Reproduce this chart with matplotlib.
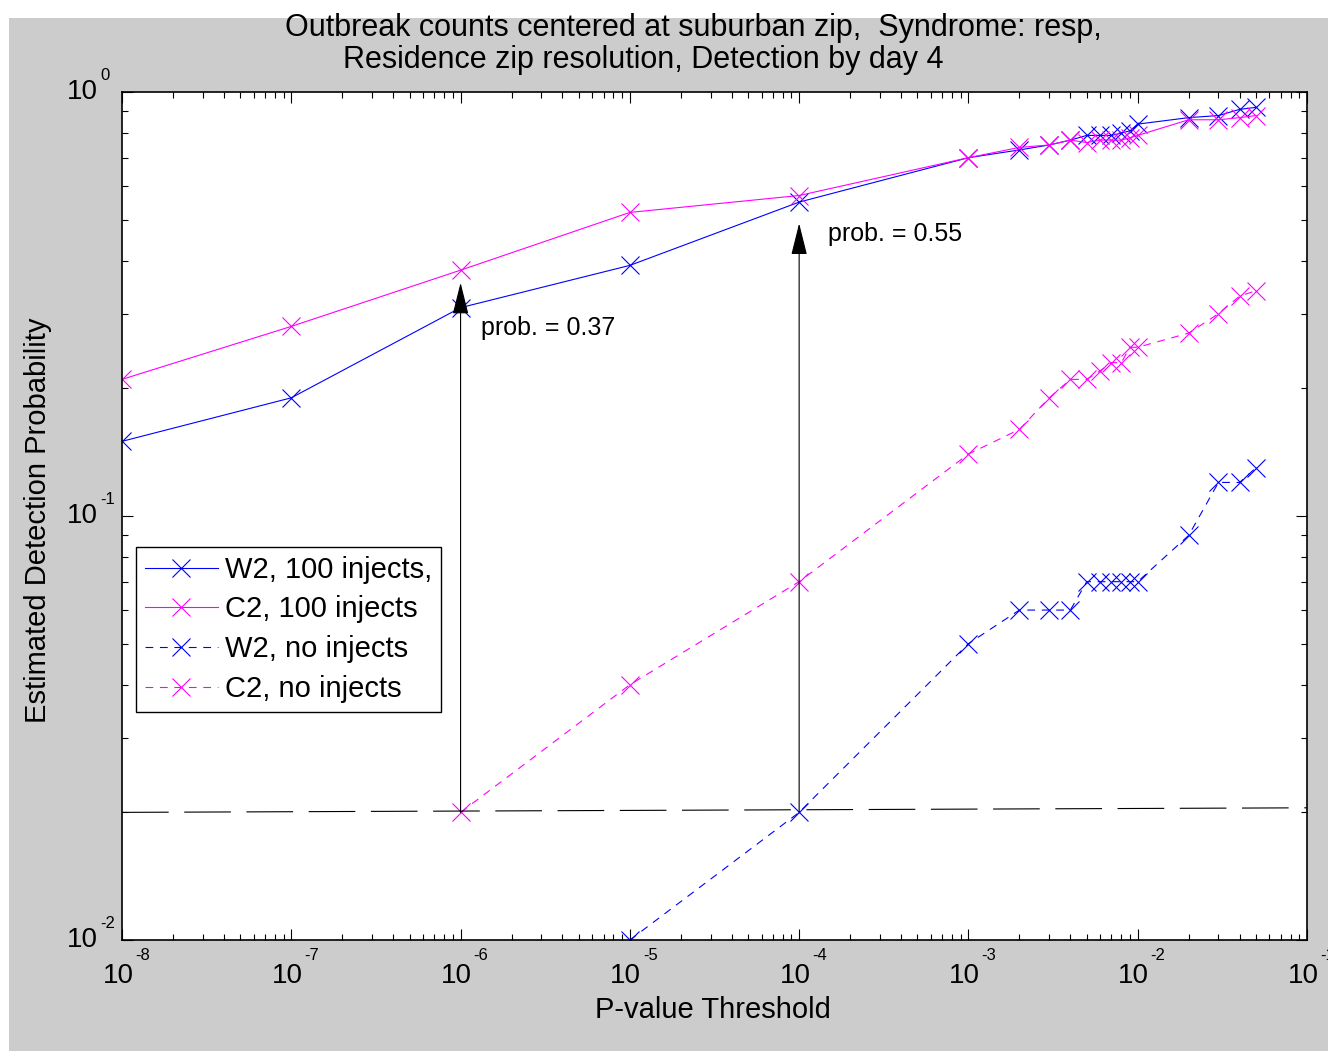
import numpy as np
import matplotlib.pyplot as plt
from matplotlib.patches import Rectangle

plt.rcParams['font.family'] = ['Liberation Sans', 'DejaVu Sans']

# p-value thresholds
pvals = [1e-8, 1e-7, 1e-6, 1e-5, 1e-4, 1e-3, 2e-3, 3e-3, 4e-3, 5e-3, 6e-3,
         7e-3, 8e-3, 9e-3, 1e-2, 2e-2, 3e-2, 4e-2, 5e-2]

w2_inject = [0.15, 0.19, 0.31, 0.39, 0.55, 0.70, 0.73, 0.75, 0.77, 0.79, 0.79,
             0.79, 0.80, 0.81, 0.84, 0.87, 0.88, 0.91, 0.92]
c2_inject = [0.21, 0.28, 0.38, 0.52, 0.57, 0.70, 0.74, 0.75, 0.77, 0.76, 0.77,
             0.77, 0.77, 0.78, 0.79, 0.86, 0.86, 0.87, 0.88]
w2_none = [np.nan, np.nan, np.nan, 0.01, 0.02, 0.05, 0.06, 0.06, 0.06, 0.07, 0.07,
           0.07, 0.07, 0.07, 0.07, 0.09, 0.12, 0.12, 0.13]
c2_none = [np.nan, np.nan, 0.02, 0.04, 0.07, 0.14, 0.16, 0.19, 0.21, 0.21, 0.22,
           0.23, 0.23, 0.25, 0.25, 0.27, 0.30, 0.33, 0.34]

legend_labels = ['W2, 100 injects,', 'C2, 100 injects', 'W2, no injects', 'C2, no injects']

# decade ticks (exponents)
x_exps = [-8, -7, -6, -5, -4, -3, -2, -1]
y_exps = [-2, -1, 0]

# false-alarm reference level and arrows
ref_x = [1e-8, 1e-1]
ref_y = [0.020, 0.0205]
arrow_x = [1e-6, 1e-4]
arrow_top = [0.355, 0.49]
arrow_text = ['prob. = 0.37', 'prob. = 0.55']
text_pos = [(1.32e-6, 0.278), (1.48e-4, 0.463)]

fig = plt.figure(figsize=(13.28, 10.51), dpi=100, facecolor='white')
fig.patches.append(Rectangle((9 / 1328, 0), 1, 1 - 18 / 1051, transform=fig.transFigure,
                             facecolor='#cccccc', edgecolor='none', zorder=-10))
ax = fig.add_axes([122 / 1328, 1 - 940 / 1051, 1185 / 1328, 848 / 1051])
ax.set_xscale('log')
ax.set_yscale('log')

mk = dict(marker='x', markersize=13, markeredgewidth=0.8, linewidth=0.8)
ax.plot(pvals, w2_inject, color='blue', label=legend_labels[0], **mk)
ax.plot(pvals, c2_inject, color='magenta', label=legend_labels[1], **mk)
ax.plot(pvals, w2_none, color='blue', linestyle=(0, (7, 6)), label=legend_labels[2], **mk)
ax.plot(pvals, c2_none, color='magenta', linestyle=(0, (7, 6)), label=legend_labels[3], **mk)

ax.plot(ref_x, ref_y, color='black', linewidth=0.8, linestyle=(0, (42, 14)))

for x, top in zip(arrow_x, arrow_top):
    ax.annotate('', xy=(x, top), xytext=(x, 0.02),
                arrowprops=dict(arrowstyle='-|>,head_width=0.2,head_length=0.8',
                                color='black', lw=0.8,
                                mutation_scale=25, shrinkA=0, shrinkB=0))
for (tx, ty), s in zip(text_pos, arrow_text):
    ax.text(tx, ty, s, fontsize=18, va='center', ha='left')

ax.set_xlim(1e-8, 1e-1)
ax.set_ylim(1e-2, 1e0)
ax.set_xticks([10.0 ** e for e in x_exps])
ax.set_yticks([10.0 ** e for e in y_exps])
ax.set_xticklabels([])
ax.set_yticklabels([])
ax.tick_params(which='both', direction='in', top=True, right=True)
ax.tick_params(which='major', length=8, width=0.8)
ax.tick_params(which='minor', length=4, width=0.8)
for s in ax.spines.values():
    s.set_linewidth(1.2)

# MATLAB-style tick labels: "10" with a small raised exponent
for e in x_exps:
    ax.annotate('10', xy=(10.0 ** e, 0), xycoords=('data', 'axes fraction'),
                xytext=(-4, -36), textcoords='offset pixels',
                ha='center', va='center', fontsize=20, annotation_clip=False)
    ax.annotate(str(e), xy=(10.0 ** e, 0), xycoords=('data', 'axes fraction'),
                xytext=(13, -16), textcoords='offset pixels',
                ha='left', va='center', fontsize=12, annotation_clip=False)
for e in y_exps:
    ax.annotate('10', xy=(0, 10.0 ** e), xycoords=('axes fraction', 'data'),
                xytext=(-24, 0), textcoords='offset pixels',
                ha='right', va='center', fontsize=20, annotation_clip=False)
    ax.annotate(str(e), xy=(0, 10.0 ** e), xycoords=('axes fraction', 'data'),
                xytext=(-22, 16), textcoords='offset pixels',
                ha='left', va='center', fontsize=12, annotation_clip=False)

ax.set_xlabel('P-value Threshold', fontsize=21, va='top')
ax.xaxis.set_label_coords(0.4987, -0.066)
ax.set_ylabel('Estimated Detection Probability', fontsize=21, va='center')
ax.yaxis.set_label_coords(-0.0709, 0.495)

fig.text(693 / 1328, 1 - 28 / 1051, 'Outbreak counts centered at suburban zip,  Syndrome: resp,',
         ha='center', va='center', fontsize=22)
fig.text(643 / 1328, 1 - 60 / 1051, 'Residence zip resolution, Detection by day 4',
         ha='center', va='center', fontsize=22)

leg = ax.legend(loc='upper left', bbox_to_anchor=(0.0118, 0.4634), fontsize=21,
                fancybox=False, edgecolor='black', framealpha=1, handlelength=2.5,
                borderpad=0.3, labelspacing=0.4, handletextpad=0.25,
                borderaxespad=0)
leg.get_frame().set_linewidth(1.0)

fig.savefig('out.png', dpi=100, facecolor=fig.get_facecolor())
